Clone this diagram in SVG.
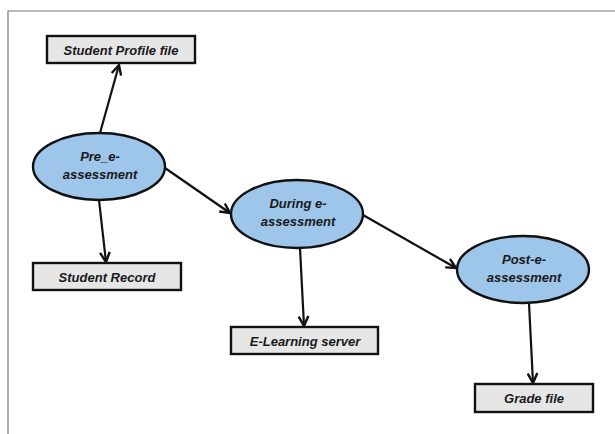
<svg xmlns="http://www.w3.org/2000/svg" width="615" height="434" viewBox="0 0 615 434">
<style>
.box{fill:#e6e6e6;stroke:#111;stroke-width:2.4}
.ell{fill:#9ec5ea;stroke:#111;stroke-width:2.4}
.t{font-family:"Liberation Sans",Arial,sans-serif;font-weight:bold;font-style:italic;font-size:13px;fill:#1a1a1a;text-anchor:middle}
.c{stroke:#111;stroke-width:2.2;fill:none;marker-end:url(#ah)}
</style>
<defs>
<marker id="ah" viewBox="0 0 10 10" refX="9" refY="5" markerWidth="5.5" markerHeight="5.5" orient="auto" markerUnits="strokeWidth">
<path d="M1,1 L9,5 L1,9" fill="none" stroke="#111" stroke-width="2"/>
</marker>
</defs>
<rect width="615" height="434" fill="#fff"/>
<path d="M8,434 L8,11 L615,11" fill="none" stroke="#777" stroke-width="1.2"/>
<g id="connectors">
<line class="c" x1="100" y1="133" x2="119" y2="65"/>
<line class="c" x1="99" y1="200" x2="106" y2="262"/>
<line class="c" x1="165" y1="168" x2="230" y2="213"/>
<line class="c" x1="300" y1="248" x2="304" y2="326"/>
<line class="c" x1="363" y1="215" x2="456" y2="268"/>
<line class="c" x1="529" y1="303" x2="533" y2="383"/>
</g>
<g id="student-profile">
<rect class="box" x="47" y="36" width="148" height="27"/>
<text class="t" x="121" y="54.5">Student Profile file</text>
</g>
<g id="pre">
<ellipse class="ell" cx="99" cy="166.5" rx="66" ry="33.5"/>
<text class="t" x="100" y="161">Pre_e-</text>
<text class="t" x="100" y="179">assessment</text>
</g>
<g id="student-record">
<rect class="box" x="33" y="263" width="148" height="27"/>
<text class="t" x="107" y="281.5">Student Record</text>
</g>
<g id="during">
<ellipse class="ell" cx="297" cy="214" rx="66" ry="34"/>
<text class="t" x="298" y="208">During e-</text>
<text class="t" x="298" y="226">assessment</text>
</g>
<g id="elearning">
<rect class="box" x="231" y="327" width="147" height="27"/>
<text class="t" x="305" y="345.5">E-Learning server</text>
</g>
<g id="post">
<ellipse class="ell" cx="523" cy="269.5" rx="66" ry="33.5"/>
<text class="t" x="524" y="264">Post-e-</text>
<text class="t" x="524" y="282">assessment</text>
</g>
<g id="grade">
<rect class="box" x="475" y="384" width="118" height="28"/>
<text class="t" x="534" y="402.5">Grade file</text>
</g>
</svg>
